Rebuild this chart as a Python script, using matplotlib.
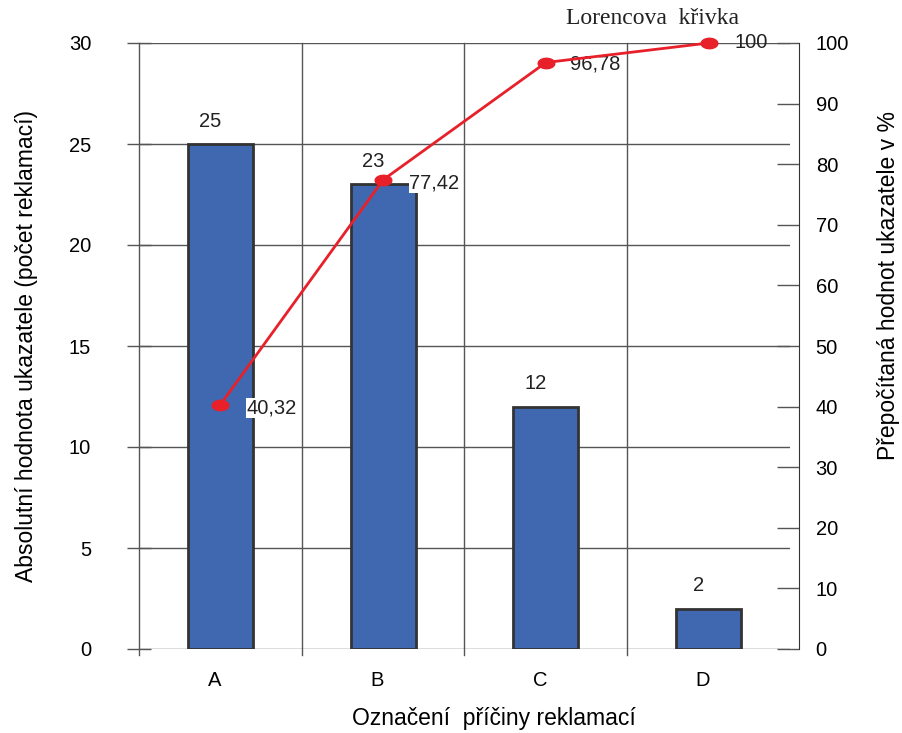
import matplotlib.pyplot as plt
from matplotlib.path import Path
import numpy as np

# data
categories = ['A', 'B', 'C', 'D']
counts = [25, 23, 12, 2]
cumulative_pct = [40.32, 77.42, 96.78, 100]
count_labels = ['25', '23', '12', '2']
pct_labels = ['40,32', '77,42', '96,78', '100']

plt.rcParams['font.family'] = ['Liberation Sans', 'DejaVu Sans']

grid_col = '#555555'
bar_col = '#3F68B1'
red = '#E8202A'

fig = plt.figure(figsize=(9.03, 7.33), dpi=100)
ax = fig.add_axes([139/903, 1-649/733, (790-139)/903, (649-43)/733])

x = np.arange(len(categories))
ax.bar(x, counts, width=0.4, color=bar_col, edgecolor='#333333', linewidth=2, zorder=3)
for xi, v, lab in zip(x, counts, count_labels):
    ax.text(xi - 0.06, v + 0.65, lab, ha='center', va='bottom', fontsize=14.5, color='#222222', zorder=5)

ax.set_xlim(-0.5, 3.5)
ax.set_ylim(0, 30)
ax.set_yticks(range(0, 31, 5))
ax.set_xticks(x - 0.035)
ax.set_xticklabels(categories)
ax.yaxis.grid(True, color=grid_col, linewidth=1)
ax.set_axisbelow(True)
for s in ['top', 'right', 'bottom', 'left']:
    ax.spines[s].set_visible(False)
for xv in [-0.5, 0.5, 1.5, 2.5]:
    ax.axvline(xv, ymin=-0.01, ymax=1, color=grid_col, linewidth=1, clip_on=False, zorder=1)
ax.tick_params(axis='y', direction='inout', length=17, width=1, color=grid_col,
               labelsize=14.5, pad=26)
ax.tick_params(axis='x', length=0, labelsize=14.5, pad=16)
ax.set_ylabel('Absolutní hodnota ukazatele (počet reklamací)', fontsize=16.5, labelpad=22)
ax.set_xlabel('Označení  příčiny reklamací', fontsize=16.5, labelpad=12)
ax.xaxis.label.set_x((494 - 139) / 651)

# right axis with cumulative %
ax2 = ax.twinx()
ax2.set_ylim(0, 100)
ax2.set_yticks(range(0, 101, 10))
for s in ['top', 'left', 'bottom']:
    ax2.spines[s].set_visible(False)
ax2.spines['right'].set_position(('outward', 6.5))
ax2.spines['right'].set_color('#333333')
ax2.tick_params(axis='y', direction='in', length=16, width=1, color=grid_col,
                labelsize=14.5, pad=12)
ax2.set_ylabel('Přepočítaná hodnot ukazatele v %', fontsize=16.5, labelpad=20)
ax2.yaxis.label.set_y((649 - 285) / 606)

# elliptical marker
t = np.linspace(0, 2*np.pi, 40)
ell = Path(np.column_stack([1.6*np.cos(t), np.sin(t)]))
ax2.plot(x, cumulative_pct, color=red, linewidth=2, marker=ell, markersize=12,
         markerfacecolor=red, markeredgecolor=red, zorder=6, clip_on=False)
offsets = [(0.16, -0.5), (0.16, -0.5), (0.15, -0.3), (0.16, 0.0)]
for xi, v, lab, (dx, dy) in zip(x, cumulative_pct, pct_labels, offsets):
    bbox = dict(facecolor='white', edgecolor='none', pad=0.5) if lab != '100' else None
    ax2.text(xi + dx, v + dy, lab, ha='left', va='center', fontsize=14.5, color='#222222',
             bbox=bbox, zorder=4, clip_on=False)

fig.text(652/903, 1-18/733, 'Lorencova  křivka', ha='center', va='center',
         fontsize=17, family='Liberation Serif', color='#222222')

fig.savefig('out.png', dpi=100)
